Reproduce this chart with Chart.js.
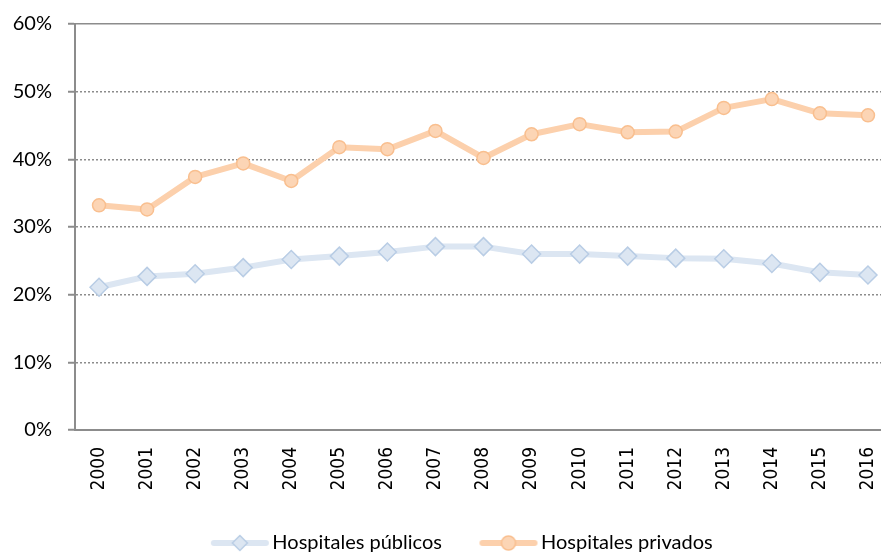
<!DOCTYPE html>
<html>
<head>
<meta charset="utf-8">
<script src="https://cdn.jsdelivr.net/npm/chart.js@4"></script>
<style>
  html, body { margin: 0; padding: 0; background: #fff; overflow: hidden; width: 881px; height: 553px; }
  #wrap { position: absolute; left: 0; top: 0; width: 926px; height: 553px; }
</style>
</head>
<body>
<div id="wrap"><canvas id="chart" width="926" height="553"></canvas></div>
<script>
const years = ['2000', '2001', '2002', '2003', '2004', '2005', '2006', '2007', '2008',
    '2009', '2010', '2011', '2012', '2013', '2014', '2015', '2016']
const publicos = [21.1, 22.7, 23.1, 24.0, 25.2, 25.7, 26.3, 27.1, 27.1,
    26.0, 26.0, 25.7, 25.4, 25.3, 24.6, 23.3, 22.9]
const privados = [33.2, 32.6, 37.4, 39.4, 36.8, 41.8, 41.5, 44.2, 40.2,
    43.7, 45.2, 44.0, 44.1, 47.6, 48.9, 46.8, 46.5]
const yTicks = [0, 10, 20, 30, 40, 50, 60]

const grey = '#8c8c8c'
const blue = { line: '#dce6f2', fill: '#dce6f2', edge: '#b9cde5' }
const orange = { line: '#fcd0ac', fill: '#fcd5b5', edge: '#f9bf8f' }

// small image used as legend symbol: a line with the marker in the middle
function legendSymbol(colors, shape) {
    const c = document.createElement('canvas')
    c.width = 62
    c.height = 20
    const g = c.getContext('2d')
    g.lineCap = 'round'
    g.lineWidth = 6
    g.strokeStyle = colors.line
    g.beginPath()
    g.moveTo(5, 10)
    g.lineTo(57, 10)
    g.stroke()
    g.fillStyle = colors.fill
    g.strokeStyle = colors.edge
    g.lineWidth = 1.5
    g.beginPath()
    if (shape === 'diamond') {
        g.moveTo(31, 2.5); g.lineTo(38.5, 10); g.lineTo(31, 17.5); g.lineTo(23.5, 10); g.closePath()
    } else {
        g.arc(31, 10, 7, 0, Math.PI * 2)
    }
    g.fill()
    g.stroke()
    return c
}

const symbols = [legendSymbol(blue, 'diamond'), legendSymbol(orange, 'circle')]

// the legend row is pushed a little to the right, like in the original
const shiftLegend = {
    id: 'shiftLegend',
    afterLayout(chart) {
        chart.legend.left += 19
        chart.legend.right += 19
    }
}

new Chart(document.getElementById('chart'), {
    type: 'line',
    data: {
        labels: years,
        datasets: [{
            label: 'Hospitales públicos',
            data: publicos,
            borderColor: blue.line,
            backgroundColor: blue.fill,
            borderWidth: 6,
            borderJoinStyle: 'round',
            borderCapStyle: 'round',
            tension: 0,
            pointStyle: 'rectRot',
            pointRadius: 9,
            pointBackgroundColor: blue.fill,
            pointBorderColor: blue.edge,
            pointBorderWidth: 1.5
        }, {
            label: 'Hospitales privados',
            data: privados,
            borderColor: orange.line,
            backgroundColor: orange.fill,
            borderWidth: 6,
            borderJoinStyle: 'round',
            borderCapStyle: 'round',
            tension: 0,
            pointStyle: 'circle',
            pointRadius: 6.5,
            pointBackgroundColor: orange.fill,
            pointBorderColor: orange.edge,
            pointBorderWidth: 1.5
        }]
    },
    options: {
        responsive: false,
        animation: false,
        devicePixelRatio: 1,
        layout: { padding: { top: 24, right: 34, left: 0, bottom: 0 } },
        plugins: {
            tooltip: { enabled: false },
            legend: {
                position: 'bottom',
                maxHeight: 64,
                labels: {
                    usePointStyle: true,
                    pointStyleWidth: 45,
                    padding: 44,
                    color: '#000',
                    font: { family: 'Lato', size: 20 },
                    generateLabels: (chart) => chart.data.datasets.map((ds, i) => ({
                        text: ds.label,
                        pointStyle: symbols[i],
                        fontColor: '#000',
                        datasetIndex: i,
                        lineWidth: 0
                    }))
                }
            }
        },
        scales: {
            x: {
                offset: true,
                grid: { display: false, drawTicks: false },
                border: { display: true, color: grey, width: 2 },
                ticks: {
                    color: '#000',
                    font: { family: "'Liberation Sans Narrow', 'DejaVu Sans Condensed', sans-serif", size: 19 },
                    minRotation: 90,
                    maxRotation: 90,
                    padding: 17,
                    autoSkip: false
                },
                afterFit: (scale) => { scale.height = 59 }
            },
            y: {
                min: 0,
                max: 60,
                afterBuildTicks: (scale) => { scale.ticks = yTicks.map(v => ({ value: v })) },
                grid: {
                    color: grey,
                    lineWidth: 1.5,
                    tickLength: 7,
                    tickColor: grey,
                    tickWidth: 2
                },
                border: {
                    display: true,
                    color: grey,
                    width: 2,
                    dash: (ctx) => (ctx.tick && ctx.tick.value >= 60) ? [] : [2, 2]
                },
                ticks: {
                    color: '#000',
                    padding: 16,
                    font: { family: 'Lato', size: 20 },
                    callback: (v) => v + '%'
                },
                afterFit: (scale) => {
                    scale.width = 75
                    scale.paddingTop = 12
                    scale.paddingBottom = 12
                }
            }
        }
    },
    plugins: [shiftLegend]
})
</script>
</body>
</html>
